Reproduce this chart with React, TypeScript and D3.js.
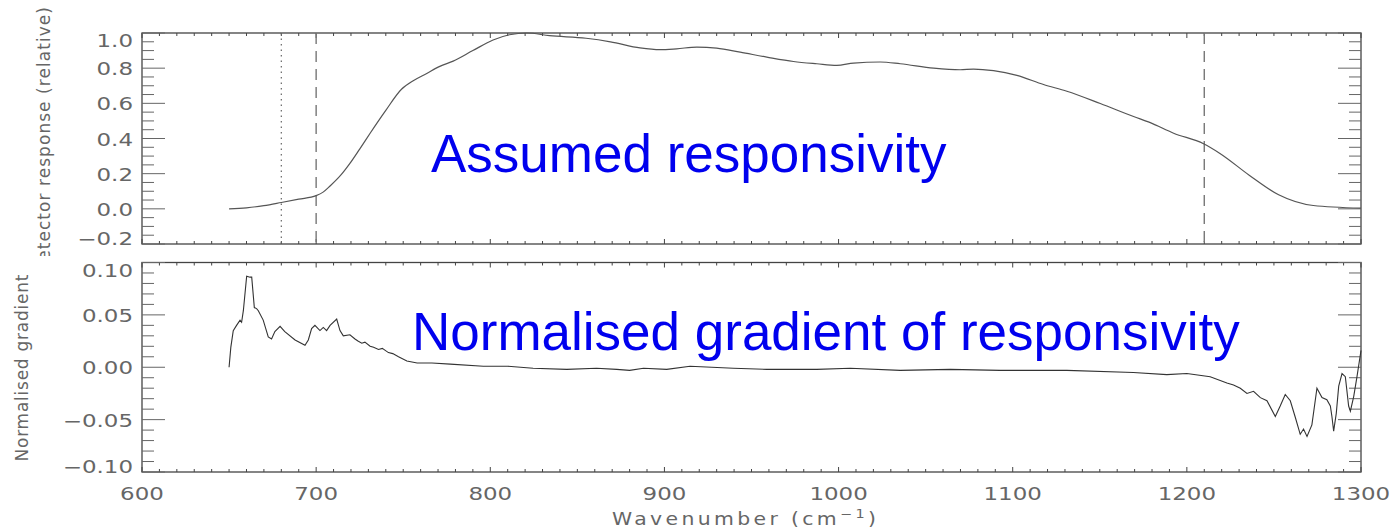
import React from "react";
import * as d3 from "d3";

// ---------- data ----------
const respWn = [650, 660, 670, 680, 690, 700, 704, 708, 714, 719.5, 725, 731, 740, 749, 756, 763.5, 771, 778.7, 790, 801.6, 811, 821, 834, 855, 869, 886, 897.5, 907, 918.6, 930, 943.5, 958.8, 974.1, 987.5, 999, 1008.6, 1023.9, 1035.4, 1054.6, 1069.8, 1077.5, 1089, 1102.4, 1117.7, 1131.1, 1150.3, 1169.4, 1179, 1192.4, 1209.6, 1219, 1236, 1252.7, 1272.6, 1300];
const respVal = [0, 0.006, 0.018, 0.036, 0.055, 0.075, 0.095, 0.13, 0.19, 0.26, 0.34, 0.43, 0.56, 0.68, 0.73, 0.77, 0.81, 0.84, 0.9, 0.96, 0.99, 1.0, 0.985, 0.97, 0.95, 0.915, 0.905, 0.91, 0.92, 0.914, 0.891, 0.863, 0.838, 0.825, 0.816, 0.829, 0.835, 0.825, 0.8, 0.791, 0.795, 0.786, 0.759, 0.707, 0.669, 0.599, 0.525, 0.49, 0.43, 0.37, 0.315, 0.19, 0.08, 0.019, 0.004];

const gradWn = [650, 651, 652.4, 654.3, 656.3, 657.2, 658.2, 660.1, 662, 663, 664.5, 665.8, 666.8, 669.6, 672.5, 674.4, 676.3, 679.3, 682, 687.9, 693.6, 695.5, 697.4, 699.3, 702.2, 704.1, 706, 708, 711.8, 713.7, 715.6, 719.4, 722.3, 724, 726.2, 728, 731, 733, 735.8, 738, 741.5, 744, 747.3, 752.1, 758, 766.5, 777, 796, 810, 824.6, 843.9, 861, 872.6, 880, 888, 901.3, 914.7, 939.6, 958.8, 987.5, 1006.7, 1035.4, 1064.1, 1092.8, 1131.1, 1169.3, 1188.5, 1200, 1213.4, 1223, 1226.8, 1230.7, 1234.5, 1238.3, 1242.2, 1246, 1250.8, 1253.6, 1256.5, 1259.4, 1262.3, 1265.1, 1267, 1269, 1271.8, 1274.7, 1277.6, 1280.4, 1282.4, 1283.3, 1284.3, 1285.8, 1287.2, 1289.1, 1291, 1292.9, 1293.9, 1295.8, 1297.7, 1300];
const gradVal = [0, 0.019, 0.035, 0.04, 0.045, 0.043, 0.054, 0.087, 0.086, 0.086, 0.057, 0.056, 0.054, 0.045, 0.029, 0.027, 0.034, 0.039, 0.034, 0.026, 0.021, 0.026, 0.037, 0.04, 0.035, 0.038, 0.035, 0.04, 0.046, 0.035, 0.03, 0.031, 0.027, 0.025, 0.023, 0.024, 0.02, 0.019, 0.017, 0.018, 0.014, 0.013, 0.01, 0.006, 0.004, 0.004, 0.003, 0.001, 0.001, -0.001, -0.002, -0.001, -0.002, -0.003, -0.001, -0.002, 0.001, -0.001, -0.002, -0.002, -0.001, -0.003, -0.002, -0.003, -0.003, -0.005, -0.007, -0.006, -0.009, -0.015, -0.017, -0.02, -0.025, -0.023, -0.029, -0.032, -0.047, -0.037, -0.026, -0.032, -0.048, -0.064, -0.059, -0.066, -0.055, -0.02, -0.029, -0.031, -0.037, -0.047, -0.061, -0.044, -0.018, -0.006, -0.009, -0.037, -0.042, -0.028, -0.009, 0.016];

const xTicks = [600, 700, 800, 900, 1000, 1100, 1200, 1300];
const topYTicks = [-0.2, 0, 0.2, 0.4, 0.6, 0.8, 1.0];
const botYTicks = [-0.1, -0.05, 0, 0.05, 0.1];
const dottedLines = [680];
const dashedLines = [700, 1210];

// ---------- layout ----------
const W = 1395, H = 528;
const X0 = 142, X1 = 1361;
const TOP = { y0: 33, y1: 244 };
const BOT = { y0: 262.5, y1: 472 };
const TEXT = "#666";
const AXIS = "#444";
const FONT = "'DejaVu Sans', sans-serif";
const SX = 1.35;

function Panel({ y0, y1, domain, ticks, minorStep, fmt, showXLabels }: any) {
  const x = d3.scaleLinear().domain([600, 1300]).range([X0, X1]);
  const y = d3.scaleLinear().domain(domain).range([y1, y0]);
  const xMinor = d3.range(600, 1300.1, 10);
  const nMinor = Math.round((domain[1] - domain[0]) / minorStep);
  const yMinor = d3.range(0, nMinor + 1).map((i) => domain[0] + i * minorStep);
  const isMajorX = (v: number) => Math.abs(v % 100) < 1e-6;
  const isMajorY = (v: number) => ticks.some((t: number) => Math.abs(t - v) < 1e-9);
  return (
    <g>
      <rect x={X0} y={y0} width={X1 - X0} height={y1 - y0} fill="none" stroke={AXIS} strokeWidth={1.3} />
      {xMinor.map((v: number, i: number) => {
        const len = isMajorX(v) ? 5 : 3;
        return (
          <g key={"xt" + i} stroke={AXIS} strokeWidth={1}>
            <line x1={x(v)} x2={x(v)} y1={y1} y2={y1 - len} />
            <line x1={x(v)} x2={x(v)} y1={y0} y2={y0 + len} />
          </g>
        );
      })}
      {yMinor.map((v: number, i: number) => {
        const len = isMajorY(v) ? 23 : 12;
        return (
          <g key={"yt" + i} stroke="#666" strokeWidth={1}>
            <line x1={X0} x2={X0 + len} y1={y(v)} y2={y(v)} />
            <line x1={X1} x2={X1 - len} y1={y(v)} y2={y(v)} />
          </g>
        );
      })}
      {ticks.map((v: number, i: number) => {
        const s = fmt(v);
        const off = i === ticks.length - 1 ? 8 : i === 0 ? -5 : 1;
        return (
          <text key={"yl" + i} transform={`translate(${X0 - 9},${y(v) + off + 6}) scale(${SX},1)`}
            textAnchor="end" fontFamily={FONT} fontSize={17} fill={TEXT}>{s}</text>
        );
      })}
      {showXLabels && xTicks.map((v, i) => (
        <text key={"xl" + i} transform={`translate(${x(v)},500) scale(${SX},1)`} textAnchor="middle"
          fontFamily={FONT} fontSize={17} fill={TEXT}>{String(v)}</text>
      ))}
    </g>
  );
}

export default function App() {
  const x = d3.scaleLinear().domain([600, 1300]).range([X0, X1]);
  const yTop = d3.scaleLinear().domain([-0.2, 1.0]).range([TOP.y1, TOP.y0]);
  const yBot = d3.scaleLinear().domain([-0.1, 0.1]).range([BOT.y1, BOT.y0]);
  const respLine = d3.line<number>().x((_, i) => x(respWn[i])).y((d) => yTop(d)).curve(d3.curveMonotoneX);
  const gradLine = d3.line<number>().x((_, i) => x(gradWn[i])).y((d) => yBot(d));
  const fmtTop = (v: number) => (v < 0 ? "−" : "") + Math.abs(v).toFixed(1);
  const fmtBot = (v: number) => (v < 0 ? "−" : "") + Math.abs(v).toFixed(2);
  return (
    <svg width={W} height={H} style={{ position: "absolute", left: 0, top: 0, background: "#fff" }}>
      <defs>
        <clipPath id="topTitleClip">
          <rect x={0} y={0} width={80} height={256} />
        </clipPath>
      </defs>
      <rect width={W} height={H} fill="#fff" />
      <Panel y0={TOP.y0} y1={TOP.y1} domain={[-0.2, 1.0]} ticks={topYTicks} minorStep={0.05} fmt={fmtTop} showXLabels={false} />
      <Panel y0={BOT.y0} y1={BOT.y1} domain={[-0.1, 0.1]} ticks={botYTicks} minorStep={0.01} fmt={fmtBot} showXLabels={true} />

      {dottedLines.map((v) => (
        <line key={"dot" + v} x1={x(v)} x2={x(v)} y1={TOP.y0} y2={TOP.y1} stroke="#666" strokeWidth={1.2} strokeDasharray="1.5 4" />
      ))}
      {dashedLines.map((v) => (
        <line key={"dash" + v} x1={x(v)} x2={x(v)} y1={TOP.y0} y2={TOP.y1} stroke="#777" strokeWidth={1.4} strokeDasharray="11 7" />
      ))}

      <path d={respLine(respVal) || ""} fill="none" stroke="#555" strokeWidth={1.2} />
      <path d={gradLine(gradVal) || ""} fill="none" stroke="#333" strokeWidth={1.1} />

      {/* axis titles */}
      <g clipPath="url(#topTitleClip)">
        <text transform="translate(50,7) rotate(-90)" textAnchor="end" fontFamily={FONT} fontSize={17}
          fill={TEXT} textLength={268} lengthAdjust="spacing">Detector response (relative)</text>
      </g>
      <text transform="translate(28,368) rotate(-90)" textAnchor="middle" fontFamily={FONT} fontSize={17}
        fill={TEXT} textLength={187} lengthAdjust="spacing">Normalised gradient</text>
      <text transform="translate(612,525) scale(1.2,1)" fontFamily={FONT} fontSize={17} fill={TEXT} letterSpacing={2.8}>
        Wavenumber (cm<tspan dy={-7} fontSize={12}>−1</tspan><tspan dy={7}>)</tspan>
      </text>

      {/* annotations */}
      <text x={431} y={172} fontFamily="'Liberation Sans', Arial, sans-serif" fontSize={53} fill="#0000ee">Assumed responsivity</text>
      <text x={412} y={350} fontFamily="'Liberation Sans', Arial, sans-serif" fontSize={53} fill="#0000ee">Normalised gradient of responsivity</text>
    </svg>
  );
}
